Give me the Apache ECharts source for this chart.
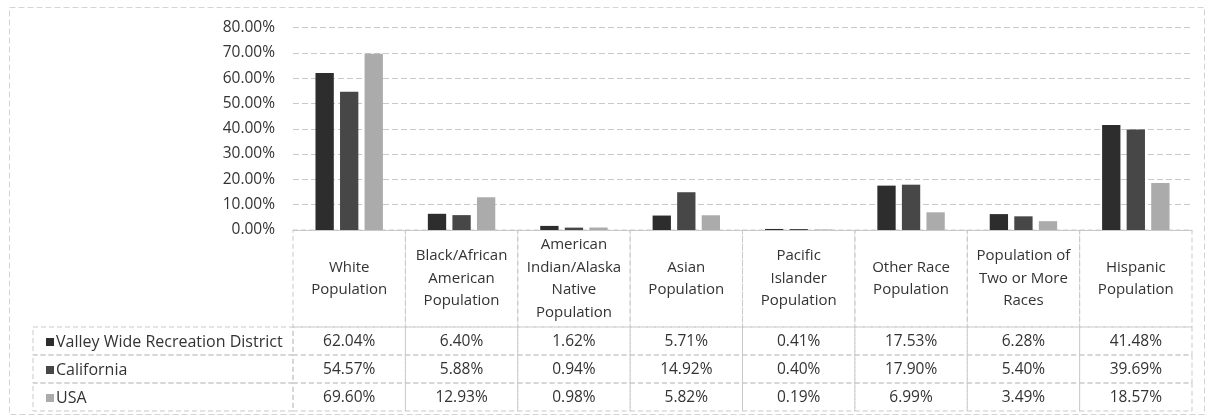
<!DOCTYPE html>
<html>
<head>
<meta charset="utf-8">
<script src="https://cdn.jsdelivr.net/npm/echarts@6/dist/echarts.min.js"></script>
<style>
  html, body { margin: 0; padding: 0; background: #ffffff; }
  #chart { width: 1209px; height: 418px; }
</style>
</head>
<body>
<div id="chart"></div>
<script>
// Population groups (column headers of the data table)
const categories = [
  'White\nPopulation',
  'Black/African\nAmerican\nPopulation',
  'American\nIndian/Alaska\nNative\nPopulation',
  'Asian\nPopulation',
  'Pacific\nIslander\nPopulation',
  'Other Race\nPopulation',
  'Population of\nTwo or More\nRaces',
  'Hispanic\nPopulation'
];

// Share of population, in percent
const seriesNames = ['Valley Wide Recreation District', 'California', 'USA'];
const valleyWide = [62.04, 6.40, 1.62, 5.71, 0.41, 17.53, 6.28, 41.48];
const california = [54.57, 5.88, 0.94, 14.92, 0.40, 17.90, 5.40, 39.69];
const usa        = [69.60, 12.93, 0.98, 5.82, 0.19, 6.99, 3.49, 18.57];

// Value axis ticks, in percent
const yTicks = [0, 10, 20, 30, 40, 50, 60, 70, 80];

const seriesValues = [valleyWide, california, usa];
const seriesColors = ['#2d2d2d', '#474747', '#ababab'];

const FONT = "'Open Sans'";
const FONT_SIZE = 15;
const TEXT_COLOR = '#333333';
const LINE_COLOR = '#c9c9c9';

// Width of the row-label column, measured in table columns
const LABEL_SPAN = 2.3137;

const fmt = v => v.toFixed(2) + '%';

// Header cells: one per category
const headerCells = categories.map((c, i) => [i]);

// Body cells: [xStart, xEnd, rowIndex, kind, columnIndex]
const bodyCells = [];
seriesNames.forEach((name, r) => {
  bodyCells.push([-LABEL_SPAN, 0, r, 0, -1]);
  categories.forEach((c, i) => bodyCells.push([i, i + 1, r, 1, i]));
});

const chart = echarts.init(document.getElementById('chart'), null, { renderer: 'canvas' });

const option = {
  animation: false,
  backgroundColor: '#ffffff',
  textStyle: { fontFamily: FONT },
  graphic: [{
    type: 'rect',
    left: 7, top: 5,
    shape: { width: 1195, height: 407 },
    style: { fill: 'none', stroke: '#d4d4d4', lineWidth: 1, lineDash: [6, 3] },
    silent: true
  }],
  grid: [
    // bars
    { left: 293, right: 17, top: 27.5, height: 202.5 },
    // table header
    { left: 293, right: 17, top: 230, height: 97 },
    // table body
    { left: 33, right: 17, top: 327, height: 84 }
  ],
  xAxis: [
    {
      gridIndex: 0, type: 'category', data: categories,
      axisLine: { show: true, lineStyle: { color: LINE_COLOR } },
      axisTick: { show: false }, axisLabel: { show: false }, splitLine: { show: false }
    },
    {
      gridIndex: 1, type: 'category', data: categories,
      axisLine: { show: false }, axisTick: { show: false }, axisLabel: { show: false }, splitLine: { show: false }
    },
    {
      gridIndex: 2, type: 'value', min: -LABEL_SPAN, max: categories.length,
      show: false
    }
  ],
  yAxis: [
    {
      gridIndex: 0, type: 'value',
      min: yTicks[0], max: yTicks[yTicks.length - 1], interval: yTicks[1] - yTicks[0],
      axisLine: { show: false }, axisTick: { show: false },
      axisLabel: {
        formatter: v => fmt(v), color: TEXT_COLOR, fontFamily: FONT, fontSize: FONT_SIZE + 0.5, margin: 18
      },
      splitLine: { show: true, lineStyle: { color: LINE_COLOR, type: [6, 3] } }
    },
    { gridIndex: 1, type: 'value', min: 0, max: 1, show: false },
    { gridIndex: 2, type: 'category', data: seriesNames, inverse: true, show: false }
  ],
  series: [
    ...seriesNames.map((name, s) => ({
      name, type: 'bar', xAxisIndex: 0, yAxisIndex: 0,
      data: seriesValues[s],
      itemStyle: { color: seriesColors[s] },
      barCategoryGap: '40%', barGap: '34%'
    })),
    {
      // column headers of the data table
      type: 'custom', xAxisIndex: 1, yAxisIndex: 1,
      data: headerCells, silent: true,
      renderItem(params, api) {
        const i = api.value(0);
        const top = api.coord([i, 1]);
        const bottom = api.coord([i, 0]);
        const w = api.size([1, 0])[0];
        const x0 = top[0] - w / 2;
        return {
          type: 'group',
          children: [
            {
              type: 'rect',
              shape: { x: x0, y: top[1], width: w, height: bottom[1] - top[1] },
              style: { fill: 'none', stroke: LINE_COLOR, lineWidth: 1, lineDash: [5, 3] }
            },
            {
              type: 'text',
              style: {
                x: top[0], y: (top[1] + bottom[1]) / 2,
                text: categories[i],
                align: 'center', verticalAlign: 'middle',
                font: FONT_SIZE + 'px ' + FONT, lineHeight: 22.5,
                fill: TEXT_COLOR
              }
            }
          ]
        };
      }
    },
    {
      // values and series keys of the data table
      type: 'custom', xAxisIndex: 2, yAxisIndex: 2,
      data: bodyCells, silent: true,
      renderItem(params, api) {
        const r = api.value(2);
        const kind = api.value(3);
        const col = api.value(4);
        const p0 = api.coord([api.value(0), r]);
        const p1 = api.coord([api.value(1), r]);
        const h = api.size([0, 1])[1];
        const y0 = p0[1] - h / 2;
        const children = [{
          type: 'rect',
          shape: { x: p0[0], y: y0, width: p1[0] - p0[0], height: h },
          style: { fill: 'none', stroke: LINE_COLOR, lineWidth: 1, lineDash: [5, 3] }
        }];
        if (kind === 0) {
          children.push({
            type: 'rect',
            shape: { x: p0[0] + 13, y: p0[1] - 3, width: 8, height: 8 },
            style: { fill: seriesColors[r] }
          });
          children.push({
            type: 'text',
            style: {
              x: p0[0] + 23, y: p0[1] + 1,
              text: seriesNames[r],
              align: 'left', verticalAlign: 'middle',
              font: (FONT_SIZE + 1) + 'px ' + FONT, fill: TEXT_COLOR
            }
          });
        } else {
          children.push({
            type: 'text',
            style: {
              x: (p0[0] + p1[0]) / 2, y: p0[1] + 1,
              text: fmt(seriesValues[r][col]),
              align: 'center', verticalAlign: 'middle',
              font: (FONT_SIZE + 0.5) + 'px ' + FONT, fill: TEXT_COLOR
            }
          });
        }
        return { type: 'group', children };
      }
    }
  ]
};

chart.setOption(option);
</script>
</body>
</html>
